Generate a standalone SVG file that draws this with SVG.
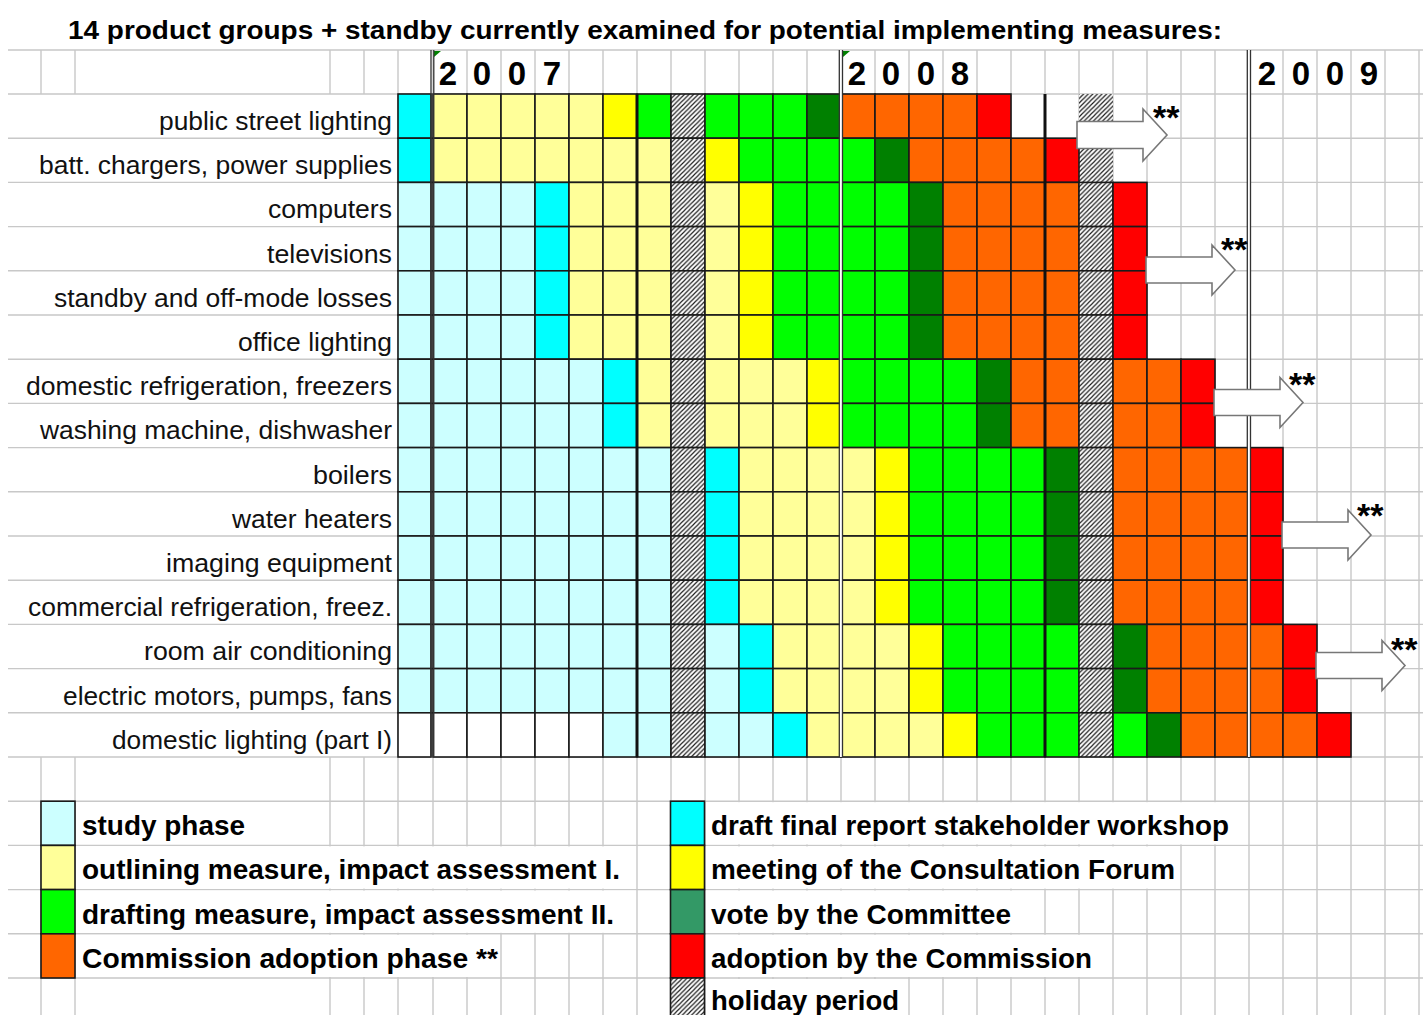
<svg xmlns="http://www.w3.org/2000/svg" xmlns:xlink="http://www.w3.org/1999/xlink" width="1423" height="1015" viewBox="0 0 1423 1015">
<style>
.grid{stroke:#c8c8c8;stroke-width:1.4;fill:none}
.cells{stroke:#1a1a1a;stroke-width:1.6}
.L{fill:#ccffff}.C{fill:#00ffff}.Y{fill:#ffff99}.Q{fill:#ffff00}.G{fill:#00ff00}.D{fill:#008000}.O{fill:#ff6600}.R{fill:#ff0000}.H{fill:url(#hatch)}.W{fill:#ffffff}.V{fill:#339966}
.lbl{font-family:"Liberation Sans",Arial,sans-serif;font-size:26px;fill:#111;text-anchor:end}
.leg{font-family:"Liberation Sans",Arial,sans-serif;font-size:27px;font-weight:bold;fill:#000}
.yr{font-family:"Liberation Sans",Arial,sans-serif;font-size:33px;font-weight:bold;fill:#000;text-anchor:middle}
.title{font-family:"Liberation Sans",Arial,sans-serif;font-size:26px;font-weight:bold;fill:#000}
.star{font-family:"Liberation Sans",Arial,sans-serif;font-size:34px;font-weight:bold;fill:#000}
.arrow{fill:#fff;stroke:#777;stroke-width:1.6;stroke-linejoin:miter}
.dbl{stroke:#333;stroke-width:1.3}
.thick{stroke:#111;stroke-width:3}
.mask{fill:#fff}
</style>
<defs>
<pattern id="hatch" patternUnits="userSpaceOnUse" width="4.6" height="4.6">
<rect width="4.6" height="4.6" fill="#fff"/>
<path d="M-1,1 l2,-2 M0,4.6 l4.6,-4.6 M3.6,5.6 l2,-2" stroke="#1a1a1a" stroke-width="1.15"/>
</pattern>
<rect id="k" width="34" height="44.2"/>
<rect id="k0" width="33" height="44.2"/>
</defs>

<!-- sheet background -->
<rect width="1423" height="1015" fill="#fff"/>

<!-- spreadsheet gridlines -->
<path class="grid" d="M8 50H1423M8 94H1423M8 138.2H1423M8 182.4H1423M8 226.6H1423M8 270.8H1423M8 315H1423M8 359.2H1423M8 403.4H1423M8 447.6H1423M8 491.8H1423M8 536H1423M8 580.2H1423M8 624.4H1423M8 668.6H1423M8 712.8H1423M8 757H1423M8 801.2H1423M8 845.4H1423M8 889.6H1423M8 933.8H1423M8 978H1423
M41 50V94M41 757V1015M75 50V94M75 757V1015M330 50V94M330 757V1015M364 50V94M364 757V1015
M398 50V1015M433 50V1015M467 50V1015M501 50V1015M535 50V1015M569 50V1015M603 50V1015M637 50V1015M671 50V1015M705 50V1015M739 50V1015M773 50V1015M807 50V1015M841 50V1015M875 50V1015M909 50V1015M943 50V1015M977 50V1015M1011 50V1015M1045 50V1015M1079 50V1015M1113 50V1015M1147 50V1015M1181 50V1015M1215 50V1015M1249 50V1015M1283 50V1015M1317 50V1015M1351 50V1015M1385 50V1015M1419 50V1015"/>

<!-- overflowing legend text hides the vertical gridlines it spans -->
<g id="legend-text-cells">
<rect class="mask" x="706" y="802.2" width="542" height="42.2"/>
<rect class="mask" x="76" y="846.4" width="560" height="42.2"/>
<rect class="mask" x="706" y="846.4" width="474" height="42.2"/>
<rect class="mask" x="76" y="890.6" width="560" height="42.2"/>
<rect class="mask" x="706" y="890.6" width="338" height="42.2"/>
<rect class="mask" x="76" y="934.8" width="424" height="42.2"/>
<rect class="mask" x="706" y="934.8" width="406" height="42.2"/>
<rect class="mask" x="706" y="979" width="202" height="36"/>
</g>

<text id="title" class="title" x="68" y="39" textLength="1154" lengthAdjust="spacingAndGlyphs">14 product groups + standby currently examined for potential implementing measures:</text>

<g id="year-header">
<text class="yr" x="448" y="85">2</text><text class="yr" x="482" y="85">0</text><text class="yr" x="517" y="85">0</text><text class="yr" x="552" y="85">7</text>
<text class="yr" x="857" y="85">2</text><text class="yr" x="891" y="85">0</text><text class="yr" x="926" y="85">0</text><text class="yr" x="960" y="85">8</text>
<text class="yr" x="1267" y="85">2</text><text class="yr" x="1301" y="85">0</text><text class="yr" x="1335" y="85">0</text><text class="yr" x="1369" y="85">9</text>
<polygon points="434,51 441,51 434,57" fill="#008000"/>
<polygon points="843,51 850,51 843,57" fill="#008000"/>
</g>

<!-- hatched holiday cells behind the first arrow -->
<rect x="1079" y="94" width="34" height="88.4" class="H"/>

<g id="row-public-street-lighting" transform="translate(0,94)">
<text class="lbl" x="392" y="36" textLength="233" lengthAdjust="spacingAndGlyphs">public street lighting</text>
<g class="cells"><use href="#k0" x="398" class="C"/><use href="#k" x="433" class="Y"/><use href="#k" x="467" class="Y"/><use href="#k" x="501" class="Y"/><use href="#k" x="535" class="Y"/><use href="#k" x="569" class="Y"/><use href="#k" x="603" class="Q"/><use href="#k" x="637" class="G"/><use href="#k" x="671" class="H"/><use href="#k" x="705" class="G"/><use href="#k" x="739" class="G"/><use href="#k" x="773" class="G"/><use href="#k" x="807" class="D"/><use href="#k" x="841" class="O"/><use href="#k" x="875" class="O"/><use href="#k" x="909" class="O"/><use href="#k" x="943" class="O"/><use href="#k" x="977" class="R"/></g>
</g>

<g id="row-batt-chargers" transform="translate(0,138.2)">
<text class="lbl" x="392" y="36" textLength="353" lengthAdjust="spacingAndGlyphs">batt. chargers, power supplies</text>
<g class="cells"><use href="#k0" x="398" class="C"/><use href="#k" x="433" class="Y"/><use href="#k" x="467" class="Y"/><use href="#k" x="501" class="Y"/><use href="#k" x="535" class="Y"/><use href="#k" x="569" class="Y"/><use href="#k" x="603" class="Y"/><use href="#k" x="637" class="Y"/><use href="#k" x="671" class="H"/><use href="#k" x="705" class="Q"/><use href="#k" x="739" class="G"/><use href="#k" x="773" class="G"/><use href="#k" x="807" class="G"/><use href="#k" x="841" class="G"/><use href="#k" x="875" class="D"/><use href="#k" x="909" class="O"/><use href="#k" x="943" class="O"/><use href="#k" x="977" class="O"/><use href="#k" x="1011" class="O"/><use href="#k" x="1045" class="R"/></g>
</g>

<g id="row-computers" transform="translate(0,182.4)">
<text class="lbl" x="392" y="36" textLength="124" lengthAdjust="spacingAndGlyphs">computers</text>
<g class="cells"><use href="#k0" x="398" class="L"/><use href="#k" x="433" class="L"/><use href="#k" x="467" class="L"/><use href="#k" x="501" class="L"/><use href="#k" x="535" class="C"/><use href="#k" x="569" class="Y"/><use href="#k" x="603" class="Y"/><use href="#k" x="637" class="Y"/><use href="#k" x="671" class="H"/><use href="#k" x="705" class="Y"/><use href="#k" x="739" class="Q"/><use href="#k" x="773" class="G"/><use href="#k" x="807" class="G"/><use href="#k" x="841" class="G"/><use href="#k" x="875" class="G"/><use href="#k" x="909" class="D"/><use href="#k" x="943" class="O"/><use href="#k" x="977" class="O"/><use href="#k" x="1011" class="O"/><use href="#k" x="1045" class="O"/><use href="#k" x="1079" class="H"/><use href="#k" x="1113" class="R"/></g>
</g>

<g id="row-televisions" transform="translate(0,226.6)">
<text class="lbl" x="392" y="36" textLength="125" lengthAdjust="spacingAndGlyphs">televisions</text>
<g class="cells"><use href="#k0" x="398" class="L"/><use href="#k" x="433" class="L"/><use href="#k" x="467" class="L"/><use href="#k" x="501" class="L"/><use href="#k" x="535" class="C"/><use href="#k" x="569" class="Y"/><use href="#k" x="603" class="Y"/><use href="#k" x="637" class="Y"/><use href="#k" x="671" class="H"/><use href="#k" x="705" class="Y"/><use href="#k" x="739" class="Q"/><use href="#k" x="773" class="G"/><use href="#k" x="807" class="G"/><use href="#k" x="841" class="G"/><use href="#k" x="875" class="G"/><use href="#k" x="909" class="D"/><use href="#k" x="943" class="O"/><use href="#k" x="977" class="O"/><use href="#k" x="1011" class="O"/><use href="#k" x="1045" class="O"/><use href="#k" x="1079" class="H"/><use href="#k" x="1113" class="R"/></g>
</g>

<g id="row-standby" transform="translate(0,270.8)">
<text class="lbl" x="392" y="36" textLength="338" lengthAdjust="spacingAndGlyphs">standby and off-mode losses</text>
<g class="cells"><use href="#k0" x="398" class="L"/><use href="#k" x="433" class="L"/><use href="#k" x="467" class="L"/><use href="#k" x="501" class="L"/><use href="#k" x="535" class="C"/><use href="#k" x="569" class="Y"/><use href="#k" x="603" class="Y"/><use href="#k" x="637" class="Y"/><use href="#k" x="671" class="H"/><use href="#k" x="705" class="Y"/><use href="#k" x="739" class="Q"/><use href="#k" x="773" class="G"/><use href="#k" x="807" class="G"/><use href="#k" x="841" class="G"/><use href="#k" x="875" class="G"/><use href="#k" x="909" class="D"/><use href="#k" x="943" class="O"/><use href="#k" x="977" class="O"/><use href="#k" x="1011" class="O"/><use href="#k" x="1045" class="O"/><use href="#k" x="1079" class="H"/><use href="#k" x="1113" class="R"/></g>
</g>

<g id="row-office-lighting" transform="translate(0,315)">
<text class="lbl" x="392" y="36" textLength="154" lengthAdjust="spacingAndGlyphs">office lighting</text>
<g class="cells"><use href="#k0" x="398" class="L"/><use href="#k" x="433" class="L"/><use href="#k" x="467" class="L"/><use href="#k" x="501" class="L"/><use href="#k" x="535" class="C"/><use href="#k" x="569" class="Y"/><use href="#k" x="603" class="Y"/><use href="#k" x="637" class="Y"/><use href="#k" x="671" class="H"/><use href="#k" x="705" class="Y"/><use href="#k" x="739" class="Q"/><use href="#k" x="773" class="G"/><use href="#k" x="807" class="G"/><use href="#k" x="841" class="G"/><use href="#k" x="875" class="G"/><use href="#k" x="909" class="D"/><use href="#k" x="943" class="O"/><use href="#k" x="977" class="O"/><use href="#k" x="1011" class="O"/><use href="#k" x="1045" class="O"/><use href="#k" x="1079" class="H"/><use href="#k" x="1113" class="R"/></g>
</g>

<g id="row-domestic-refrigeration" transform="translate(0,359.2)">
<text class="lbl" x="392" y="36" textLength="366" lengthAdjust="spacingAndGlyphs">domestic refrigeration, freezers</text>
<g class="cells"><use href="#k0" x="398" class="L"/><use href="#k" x="433" class="L"/><use href="#k" x="467" class="L"/><use href="#k" x="501" class="L"/><use href="#k" x="535" class="L"/><use href="#k" x="569" class="L"/><use href="#k" x="603" class="C"/><use href="#k" x="637" class="Y"/><use href="#k" x="671" class="H"/><use href="#k" x="705" class="Y"/><use href="#k" x="739" class="Y"/><use href="#k" x="773" class="Y"/><use href="#k" x="807" class="Q"/><use href="#k" x="841" class="G"/><use href="#k" x="875" class="G"/><use href="#k" x="909" class="G"/><use href="#k" x="943" class="G"/><use href="#k" x="977" class="D"/><use href="#k" x="1011" class="O"/><use href="#k" x="1045" class="O"/><use href="#k" x="1079" class="H"/><use href="#k" x="1113" class="O"/><use href="#k" x="1147" class="O"/><use href="#k" x="1181" class="R"/></g>
</g>

<g id="row-washing-machine" transform="translate(0,403.4)">
<text class="lbl" x="392" y="36" textLength="352" lengthAdjust="spacingAndGlyphs">washing machine, dishwasher</text>
<g class="cells"><use href="#k0" x="398" class="L"/><use href="#k" x="433" class="L"/><use href="#k" x="467" class="L"/><use href="#k" x="501" class="L"/><use href="#k" x="535" class="L"/><use href="#k" x="569" class="L"/><use href="#k" x="603" class="C"/><use href="#k" x="637" class="Y"/><use href="#k" x="671" class="H"/><use href="#k" x="705" class="Y"/><use href="#k" x="739" class="Y"/><use href="#k" x="773" class="Y"/><use href="#k" x="807" class="Q"/><use href="#k" x="841" class="G"/><use href="#k" x="875" class="G"/><use href="#k" x="909" class="G"/><use href="#k" x="943" class="G"/><use href="#k" x="977" class="D"/><use href="#k" x="1011" class="O"/><use href="#k" x="1045" class="O"/><use href="#k" x="1079" class="H"/><use href="#k" x="1113" class="O"/><use href="#k" x="1147" class="O"/><use href="#k" x="1181" class="R"/></g>
</g>

<g id="row-boilers" transform="translate(0,447.6)">
<text class="lbl" x="392" y="36" textLength="79" lengthAdjust="spacingAndGlyphs">boilers</text>
<g class="cells"><use href="#k0" x="398" class="L"/><use href="#k" x="433" class="L"/><use href="#k" x="467" class="L"/><use href="#k" x="501" class="L"/><use href="#k" x="535" class="L"/><use href="#k" x="569" class="L"/><use href="#k" x="603" class="L"/><use href="#k" x="637" class="L"/><use href="#k" x="671" class="H"/><use href="#k" x="705" class="C"/><use href="#k" x="739" class="Y"/><use href="#k" x="773" class="Y"/><use href="#k" x="807" class="Y"/><use href="#k" x="841" class="Y"/><use href="#k" x="875" class="Q"/><use href="#k" x="909" class="G"/><use href="#k" x="943" class="G"/><use href="#k" x="977" class="G"/><use href="#k" x="1011" class="G"/><use href="#k" x="1045" class="D"/><use href="#k" x="1079" class="H"/><use href="#k" x="1113" class="O"/><use href="#k" x="1147" class="O"/><use href="#k" x="1181" class="O"/><use href="#k" x="1215" class="O"/><use href="#k" x="1249" class="R"/></g>
</g>

<g id="row-water-heaters" transform="translate(0,491.8)">
<text class="lbl" x="392" y="36" textLength="160" lengthAdjust="spacingAndGlyphs">water heaters</text>
<g class="cells"><use href="#k0" x="398" class="L"/><use href="#k" x="433" class="L"/><use href="#k" x="467" class="L"/><use href="#k" x="501" class="L"/><use href="#k" x="535" class="L"/><use href="#k" x="569" class="L"/><use href="#k" x="603" class="L"/><use href="#k" x="637" class="L"/><use href="#k" x="671" class="H"/><use href="#k" x="705" class="C"/><use href="#k" x="739" class="Y"/><use href="#k" x="773" class="Y"/><use href="#k" x="807" class="Y"/><use href="#k" x="841" class="Y"/><use href="#k" x="875" class="Q"/><use href="#k" x="909" class="G"/><use href="#k" x="943" class="G"/><use href="#k" x="977" class="G"/><use href="#k" x="1011" class="G"/><use href="#k" x="1045" class="D"/><use href="#k" x="1079" class="H"/><use href="#k" x="1113" class="O"/><use href="#k" x="1147" class="O"/><use href="#k" x="1181" class="O"/><use href="#k" x="1215" class="O"/><use href="#k" x="1249" class="R"/></g>
</g>

<g id="row-imaging-equipment" transform="translate(0,536)">
<text class="lbl" x="392" y="36" textLength="226" lengthAdjust="spacingAndGlyphs">imaging equipment</text>
<g class="cells"><use href="#k0" x="398" class="L"/><use href="#k" x="433" class="L"/><use href="#k" x="467" class="L"/><use href="#k" x="501" class="L"/><use href="#k" x="535" class="L"/><use href="#k" x="569" class="L"/><use href="#k" x="603" class="L"/><use href="#k" x="637" class="L"/><use href="#k" x="671" class="H"/><use href="#k" x="705" class="C"/><use href="#k" x="739" class="Y"/><use href="#k" x="773" class="Y"/><use href="#k" x="807" class="Y"/><use href="#k" x="841" class="Y"/><use href="#k" x="875" class="Q"/><use href="#k" x="909" class="G"/><use href="#k" x="943" class="G"/><use href="#k" x="977" class="G"/><use href="#k" x="1011" class="G"/><use href="#k" x="1045" class="D"/><use href="#k" x="1079" class="H"/><use href="#k" x="1113" class="O"/><use href="#k" x="1147" class="O"/><use href="#k" x="1181" class="O"/><use href="#k" x="1215" class="O"/><use href="#k" x="1249" class="R"/></g>
</g>

<g id="row-commercial-refrigeration" transform="translate(0,580.2)">
<text class="lbl" x="392" y="36" textLength="364" lengthAdjust="spacingAndGlyphs">commercial refrigeration, freez.</text>
<g class="cells"><use href="#k0" x="398" class="L"/><use href="#k" x="433" class="L"/><use href="#k" x="467" class="L"/><use href="#k" x="501" class="L"/><use href="#k" x="535" class="L"/><use href="#k" x="569" class="L"/><use href="#k" x="603" class="L"/><use href="#k" x="637" class="L"/><use href="#k" x="671" class="H"/><use href="#k" x="705" class="C"/><use href="#k" x="739" class="Y"/><use href="#k" x="773" class="Y"/><use href="#k" x="807" class="Y"/><use href="#k" x="841" class="Y"/><use href="#k" x="875" class="Q"/><use href="#k" x="909" class="G"/><use href="#k" x="943" class="G"/><use href="#k" x="977" class="G"/><use href="#k" x="1011" class="G"/><use href="#k" x="1045" class="D"/><use href="#k" x="1079" class="H"/><use href="#k" x="1113" class="O"/><use href="#k" x="1147" class="O"/><use href="#k" x="1181" class="O"/><use href="#k" x="1215" class="O"/><use href="#k" x="1249" class="R"/></g>
</g>

<g id="row-room-air-conditioning" transform="translate(0,624.4)">
<text class="lbl" x="392" y="36" textLength="248" lengthAdjust="spacingAndGlyphs">room air conditioning</text>
<g class="cells"><use href="#k0" x="398" class="L"/><use href="#k" x="433" class="L"/><use href="#k" x="467" class="L"/><use href="#k" x="501" class="L"/><use href="#k" x="535" class="L"/><use href="#k" x="569" class="L"/><use href="#k" x="603" class="L"/><use href="#k" x="637" class="L"/><use href="#k" x="671" class="H"/><use href="#k" x="705" class="L"/><use href="#k" x="739" class="C"/><use href="#k" x="773" class="Y"/><use href="#k" x="807" class="Y"/><use href="#k" x="841" class="Y"/><use href="#k" x="875" class="Y"/><use href="#k" x="909" class="Q"/><use href="#k" x="943" class="G"/><use href="#k" x="977" class="G"/><use href="#k" x="1011" class="G"/><use href="#k" x="1045" class="G"/><use href="#k" x="1079" class="H"/><use href="#k" x="1113" class="D"/><use href="#k" x="1147" class="O"/><use href="#k" x="1181" class="O"/><use href="#k" x="1215" class="O"/><use href="#k" x="1249" class="O"/><use href="#k" x="1283" class="R"/></g>
</g>

<g id="row-electric-motors" transform="translate(0,668.6)">
<text class="lbl" x="392" y="36" textLength="329" lengthAdjust="spacingAndGlyphs">electric motors, pumps, fans</text>
<g class="cells"><use href="#k0" x="398" class="L"/><use href="#k" x="433" class="L"/><use href="#k" x="467" class="L"/><use href="#k" x="501" class="L"/><use href="#k" x="535" class="L"/><use href="#k" x="569" class="L"/><use href="#k" x="603" class="L"/><use href="#k" x="637" class="L"/><use href="#k" x="671" class="H"/><use href="#k" x="705" class="L"/><use href="#k" x="739" class="C"/><use href="#k" x="773" class="Y"/><use href="#k" x="807" class="Y"/><use href="#k" x="841" class="Y"/><use href="#k" x="875" class="Y"/><use href="#k" x="909" class="Q"/><use href="#k" x="943" class="G"/><use href="#k" x="977" class="G"/><use href="#k" x="1011" class="G"/><use href="#k" x="1045" class="G"/><use href="#k" x="1079" class="H"/><use href="#k" x="1113" class="D"/><use href="#k" x="1147" class="O"/><use href="#k" x="1181" class="O"/><use href="#k" x="1215" class="O"/><use href="#k" x="1249" class="O"/><use href="#k" x="1283" class="R"/></g>
</g>

<g id="row-domestic-lighting" transform="translate(0,712.8)">
<text class="lbl" x="392" y="36" textLength="280" lengthAdjust="spacingAndGlyphs">domestic lighting (part I)</text>
<g class="cells"><use href="#k0" x="398" class="W"/><use href="#k" x="433" class="W"/><use href="#k" x="467" class="W"/><use href="#k" x="501" class="W"/><use href="#k" x="535" class="W"/><use href="#k" x="569" class="W"/><use href="#k" x="603" class="L"/><use href="#k" x="637" class="L"/><use href="#k" x="671" class="H"/><use href="#k" x="705" class="L"/><use href="#k" x="739" class="L"/><use href="#k" x="773" class="C"/><use href="#k" x="807" class="Y"/><use href="#k" x="841" class="Y"/><use href="#k" x="875" class="Y"/><use href="#k" x="909" class="Y"/><use href="#k" x="943" class="Q"/><use href="#k" x="977" class="G"/><use href="#k" x="1011" class="G"/><use href="#k" x="1045" class="G"/><use href="#k" x="1079" class="H"/><use href="#k" x="1113" class="G"/><use href="#k" x="1147" class="D"/><use href="#k" x="1181" class="O"/><use href="#k" x="1215" class="O"/><use href="#k" x="1249" class="O"/><use href="#k" x="1283" class="O"/><use href="#k" x="1317" class="R"/></g>
</g>

<!-- period separators: year boundaries (double) and holiday edges (thick) -->
<g id="separators">
<path class="thick" d="M637 94V757M1045 94V757"/>
<rect x="840" y="50" width="2" height="707" fill="#fff"/>
<rect x="1248" y="50" width="2" height="707" fill="#fff"/>
<path class="dbl" d="M431 50V757M433.8 50V757M839.3 50V757M842.5 50V757M1247.3 50V757M1250.5 50V757"/>
</g>

<g id="connectors">
<path class="arrow" transform="translate(1077,135)" d="M0,-13.5H66V-26L90,0L66,26V13.5H0Z"/>
<path class="arrow" transform="translate(1146,270)" d="M0,-13H66V-25L89,0L66,25V13H0Z"/>
<path class="arrow" transform="translate(1214,402.5)" d="M0,-13H66V-25L89,0L66,25V13H0Z"/>
<path class="arrow" transform="translate(1282,535)" d="M0,-13H66V-25L89,0L66,25V13H0Z"/>
<path class="arrow" transform="translate(1316,665.5)" d="M0,-13H66V-25L89,0L66,25V13H0Z"/>
<text class="star" x="1153" y="129">**</text>
<text class="star" x="1221" y="261">**</text>
<text class="star" x="1289" y="396">**</text>
<text class="star" x="1357" y="527">**</text>
<text class="star" x="1391" y="661">**</text>
</g>

<g id="legend">
<g class="cells">
<rect x="41" y="801.2" width="34" height="44.2" class="L"/>
<rect x="41" y="845.4" width="34" height="44.2" class="Y"/>
<rect x="41" y="889.6" width="34" height="44.2" class="G"/>
<rect x="41" y="933.8" width="34" height="44.2" class="O"/>
<rect x="670.5" y="801.2" width="34" height="44.2" class="C"/>
<rect x="670.5" y="845.4" width="34" height="44.2" class="Q"/>
<rect x="670.5" y="889.6" width="34" height="44.2" class="V"/>
<rect x="670.5" y="933.8" width="34" height="44.2" class="R"/>
<rect x="670.5" y="978" width="34" height="44.2" class="H"/>
</g>
<text class="leg" x="82" y="835" textLength="163" lengthAdjust="spacingAndGlyphs">study phase</text>
<text class="leg" x="82" y="879" textLength="538" lengthAdjust="spacingAndGlyphs">outlining measure, impact assessment I.</text>
<text class="leg" x="82" y="923.5" textLength="532" lengthAdjust="spacingAndGlyphs">drafting measure, impact assessment II.</text>
<text class="leg" x="82" y="967.5" textLength="416" lengthAdjust="spacingAndGlyphs">Commission adoption phase **</text>
<text class="leg" x="711" y="835" textLength="518" lengthAdjust="spacingAndGlyphs">draft final report stakeholder workshop</text>
<text class="leg" x="711" y="879" textLength="464" lengthAdjust="spacingAndGlyphs">meeting of the Consultation Forum</text>
<text class="leg" x="711" y="923.5" textLength="300" lengthAdjust="spacingAndGlyphs">vote by the Committee</text>
<text class="leg" x="711" y="967.5" textLength="381" lengthAdjust="spacingAndGlyphs">adoption by the Commission</text>
<text class="leg" x="711" y="1010" textLength="188" lengthAdjust="spacingAndGlyphs">holiday period</text>
</g>
</svg>
